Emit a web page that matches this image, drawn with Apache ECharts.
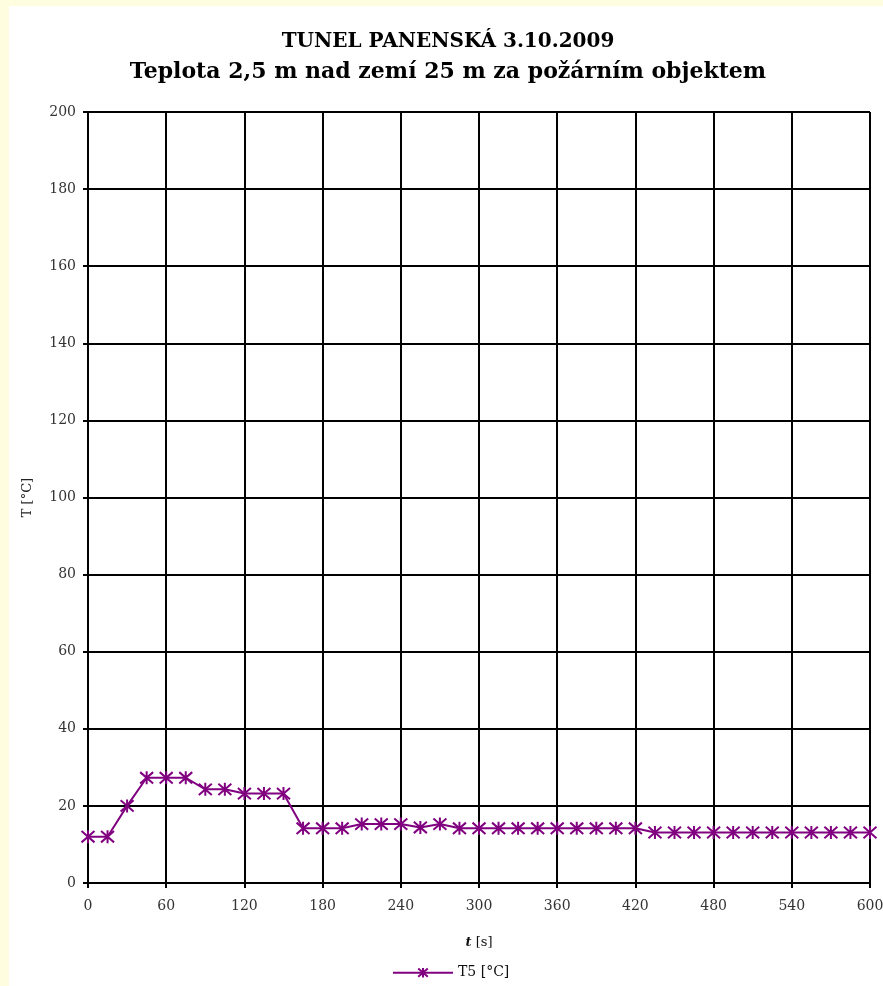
<!DOCTYPE html>
<html>
<head>
<meta charset="utf-8">
<script src="https://cdn.jsdelivr.net/npm/echarts@6/dist/echarts.min.js"></script>
<style>
	html, body { margin: 0; padding: 0; background: #fffde0; }
	#chart { position: absolute; left: 9px; top: 6px; width: 874px; height: 980px; background: #fff; }
</style>
</head>
<body>
<div id="chart"></div>
<script>
	// cas [s]
	var times = [0, 15, 30, 45, 60, 75, 90, 105, 120, 135, 150, 165, 180, 195, 210, 225, 240,
		255, 270, 285, 300, 315, 330, 345, 360, 375, 390, 405, 420, 435, 450, 465, 480,
		495, 510, 525, 540, 555, 570, 585, 600]
	// T5 [°C]
	var t5 = [12, 12, 20, 27.3, 27.3, 27.3, 24.3, 24.3, 23.2, 23.2, 23.2, 14.2, 14.2, 14.2, 15.3, 15.3, 15.3,
		14.4, 15.3, 14.2, 14.2, 14.2, 14.2, 14.2, 14.2, 14.2, 14.2, 14.2, 14.2, 13.1, 13.1, 13.1, 13.1,
		13.1, 13.1, 13.1, 13.1, 13.1, 13.1, 13.1, 13.1]
	var seriesName = 'T5 [°C]'
	var titles = ['TUNEL PANENSKÁ 3.10.2009', 'Teplota 2,5 m nad zemí 25 m za požárním objektem']

	var data = []
	for (var i = 0; i < times.length; i++) {
		data.push([times[i], t5[i]])
	}

	// hvezdicka jako v Excelu (X + svisla cara)
	var star = 'path://M0,-6L0,6M-5.2,-5.2L5.2,5.2M-5.2,5.2L5.2,-5.2'
	var wide = 'DejaVu Serif'

	var myChart = echarts.init(document.getElementById('chart'))
	var option = {
		animation: false,
		title: {
			text: titles[0],
			subtext: titles[1],
			left: 434,
			top: 21,
			textAlign: 'center',
			itemGap: 9,
			textStyle: {
				fontFamily: wide,
				fontSize: 20,
				fontWeight: 'bold',
				color: '#000'
			},
			subtextStyle: {
				fontFamily: wide,
				fontSize: 22,
				fontWeight: 'bold',
				color: '#000'
			}
		},
		legend: {
			data: [seriesName],
			bottom: 6,
			left: 383,
			padding: 0,
			itemWidth: 60,
			itemHeight: 12,
			textStyle: { fontFamily: wide, fontSize: 14, color: '#111' }
		},
		grid: {
			left: 79,
			right: 13,
			top: 106,
			bottom: 103,
			outerBoundsMode: 'none'
		},
		xAxis: {
			type: 'value',
			min: 0,
			max: 600,
			interval: 60,
			name: '{i|t} [s]',
			nameLocation: 'middle',
			nameGap: 53,
			nameTextStyle: {
				fontFamily: wide,
				fontSize: 13,
				color: '#111',
				rich: { i: { fontFamily: wide, fontStyle: 'italic', fontWeight: 'bold', fontSize: 13, color: '#111' } }
			},
			axisLine: { lineStyle: { color: '#000', width: 2 } },
			axisTick: { show: true, length: 5, lineStyle: { color: '#000', width: 2 } },
			axisLabel: { fontFamily: wide, fontSize: 14, color: '#333', margin: 16 },
			splitLine: { show: true, lineStyle: { color: '#000', width: 2 } }
		},
		yAxis: {
			type: 'value',
			min: 0,
			max: 200,
			interval: 20,
			name: 'T [°C]',
			nameLocation: 'middle',
			nameGap: 54,
			nameTextStyle: { fontFamily: wide, fontSize: 13, color: '#222' },
			axisLine: { show: true, lineStyle: { color: '#000', width: 2 } },
			axisTick: { show: true, length: 5, lineStyle: { color: '#000', width: 2 } },
			axisLabel: { fontFamily: wide, fontSize: 14, color: '#333', margin: 12 },
			splitLine: { show: true, lineStyle: { color: '#000', width: 2 } }
		},
		series: [{
			name: seriesName,
			type: 'line',
			data: data,
			symbol: star,
			symbolSize: [13, 13],
			showAllSymbol: true,
			lineStyle: { color: '#800080', width: 2 },
			itemStyle: { color: 'none', borderColor: '#800080', borderWidth: 2 }
		}]
	}
	myChart.setOption(option)
</script>
</body>
</html>
